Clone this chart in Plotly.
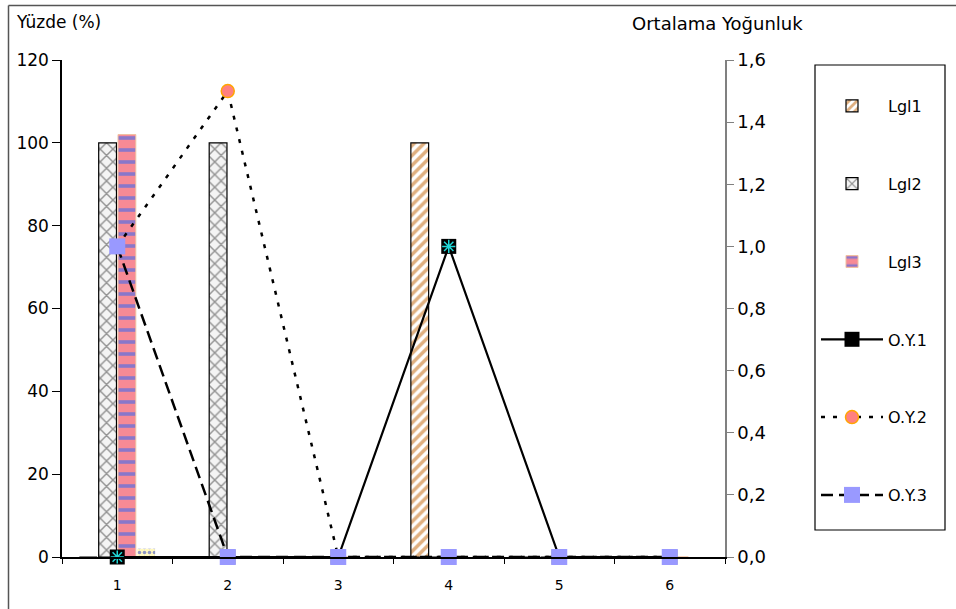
import plotly.graph_objects as go

categories = ["1", "2", "3", "4", "5", "6"]
lgl1 = [0, 0, 0, 100, 0, 0]
lgl2 = [100, 100, 0, 0, 0, 0]
lgl3 = [102, 0, 0, 0, 0, 0]
lgl4 = [2, 0, 0, 0, 0, 0]
oy1 = [0, 0, 0, 1.0, 0, 0]
oy2 = [1.0, 1.5, 0, 0, 0, 0]
oy3 = [1.0, 0, 0, 0, 0, 0]

FONT = "DejaVu Sans, Verdana, sans-serif"
W, H = 956, 609
L, R, T, B = 62, 725, 60, 557

fig = go.Figure()

fig.add_trace(go.Bar(
    x=categories, y=lgl1, name="Lgl1", legendgroup="a",
    marker=dict(color="white", line=dict(color="black", width=1.2),
                pattern=dict(shape="/", fgcolor="#c06000", bgcolor="white", size=7, solidity=0.5)),
))
fig.add_trace(go.Bar(
    x=categories, y=lgl2, name="Lgl2", legendgroup="b",
    marker=dict(color="#f2f2f2", line=dict(color="black", width=1.2),
                pattern=dict(shape="x", fgcolor="#333333", bgcolor="#f4f4f4", size=9, solidity=0.3)),
))
fig.add_trace(go.Bar(
    x=categories, y=lgl3, name="Lgl3", legendgroup="c",
    marker=dict(color="#ff5a78", line=dict(color="#f0c0a0", width=1),
                pattern=dict(shape="-", fgcolor="#1e64ff", bgcolor="#f78a95", size=12, solidity=0.3)),
))
fig.add_trace(go.Bar(
    x=categories, y=lgl4, name="Lgl4", showlegend=False,
    marker=dict(color="white", line=dict(color="white", width=0),
                pattern=dict(shape=".", fgcolor="#1a30c8", bgcolor="#fff8c0", size=5, solidity=0.4)),
))

fig.add_trace(go.Scatter(
    x=categories, y=oy1, name="O.Y.1", yaxis="y2", legendgroup="d",
    mode="lines+markers", cliponaxis=False,
    line=dict(color="black", width=2.2),
    marker=dict(symbol="square", size=15, color="black", line=dict(color="black", width=0)),
))
fig.add_trace(go.Scatter(
    x=categories, y=oy1, name="O.Y.1", yaxis="y2", legendgroup="d", showlegend=False,
    mode="markers", cliponaxis=False,
    marker=dict(symbol="asterisk-open", size=11, color="#20d8d8", line=dict(color="#20d8d8", width=1.5)),
))
fig.add_trace(go.Scatter(
    x=categories, y=oy2, name="O.Y.2", yaxis="y2", legendgroup="e",
    mode="lines+markers", cliponaxis=False,
    line=dict(color="black", width=2.5, dash="4px,8px"),
    marker=dict(symbol="circle", size=13, color="#ff8080", line=dict(color="#ffa500", width=1.5)),
))
fig.add_trace(go.Scatter(
    x=categories, y=oy3, name="O.Y.3", yaxis="y2", legendgroup="f",
    mode="lines+markers", cliponaxis=False,
    line=dict(color="black", width=2.5, dash="12px,6px"),
    marker=dict(symbol="square", size=16, color="#9999ff", line=dict(color="#9999ff", width=0)),
))

def px_x(p):
    return (p - L) / (R - L)

def px_y(p):
    return (B - p) / (B - T)

fig.update_layout(
    width=W, height=H,
    margin=dict(l=L, r=W - R, t=T, b=H - B),
    paper_bgcolor="white", plot_bgcolor="white",
    font=dict(family=FONT, size=16, color="black"),
    separators=",.",
    barmode="group", bargap=0.3, bargroupgap=0.08,
    showlegend=True,
    legend=dict(
        x=px_x(816), y=px_y(89), xanchor="left", yanchor="top",
        bgcolor="rgba(0,0,0,0)", borderwidth=0,
        font=dict(family=FONT, size=16),
        tracegroupgap=54, traceorder="grouped",
        itemwidth=62,
    ),
    xaxis=dict(
        type="category", range=[-0.5, 5.5],
        showline=True, linecolor="black", linewidth=2,
        ticks="outside", tickson="boundaries", ticklen=5, tickcolor="black",
        tickfont=dict(size=14), ticklabelstandoff=14,
        showgrid=False, zeroline=False,
    ),
    yaxis=dict(
        range=[0, 120], dtick=20,
        showline=True, linecolor="black", linewidth=1.5,
        ticks="outside", ticklen=8, tickcolor="black",
        tickfont=dict(size=17), showgrid=False, zeroline=False,
    ),
    yaxis2=dict(
        range=[0, 1.6], dtick=0.2, tickformat=".1f",
        overlaying="y", side="right",
        showline=True, linecolor="#808080", linewidth=1.5,
        ticks="outside", ticklen=7, tickcolor="#808080",
        tickfont=dict(size=18), showgrid=False, zeroline=False,
    ),
    shapes=[
        dict(type="rect", xref="paper", yref="paper",
             x0=px_x(815), x1=px_x(945), y0=px_y(530), y1=px_y(65),
             line=dict(color="black", width=1.2), fillcolor="rgba(0,0,0,0)"),
        dict(type="line", xref="paper", yref="paper",
             x0=px_x(8.5), x1=px_x(960), y0=px_y(5.5), y1=px_y(5.5),
             line=dict(color="#555555", width=1.5)),
        dict(type="line", xref="paper", yref="paper",
             x0=px_x(8.5), x1=px_x(8.5), y0=px_y(612), y1=px_y(5.5),
             line=dict(color="#555555", width=1.5)),
    ],
    annotations=[
        dict(text="Yüzde (%)", xref="paper", yref="paper",
             x=px_x(14), y=px_y(22), xanchor="left", yanchor="middle",
             showarrow=False, font=dict(size=17)),
        dict(text="Ortalama Yoğunluk", xref="paper", yref="paper",
             x=px_x(630), y=px_y(23), xanchor="left", yanchor="middle",
             showarrow=False, font=dict(size=18)),
    ],
)

fig.write_html("out.html")
